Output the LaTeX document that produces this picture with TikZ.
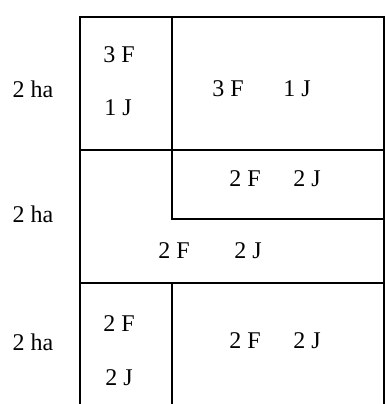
\documentclass[tikz,border=0pt]{standalone}
\usepackage{fontspec}
\setmainfont{Liberation Serif}
\usetikzlibrary{positioning}

\begin{document}
\begin{tikzpicture}[x=1pt,y=-1pt,
  wall/.style={line width=1.6pt,line cap=rect},
  lbl/.style={inner sep=0pt,font=\fontsize{24}{28}\selectfont}
]
  \useasboundingbox (0,0) rectangle (385,404);
  % field outline and plots
  \draw[wall] (384,17) -- (80,17) -- (80,404);
  \draw[wall] (384,17) -- (384,404);
  \draw[wall] (172,17) -- (172,219) -- (384,219);
  \draw[wall] (80,150) -- (384,150);
  \draw[wall] (80,283) -- (384,283);
  \draw[wall] (172,283) -- (172,404);
  % areas
  \node[lbl] (ha1) at (33,89) {2 ha};
  \node[lbl] (ha2) at (33,214) {2 ha};
  \node[lbl] (ha3) at (33,342) {2 ha};
  % top plot
  \node[lbl] (a1) at (119,55) {3 F};
  \node[lbl] (a2) at (118,108) {1 J};
  \node[lbl] (b1) at (228,89) {3 F};
  \node[lbl] (b2) at (297,89) {1 J};
  % middle plot
  \node[lbl] (c1) at (245,179) {2 F};
  \node[lbl] (c2) at (307,179) {2 J};
  \node[lbl] (d1) at (174,251) {2 F};
  \node[lbl] (d2) at (248,251) {2 J};
  % bottom plot
  \node[lbl] (e1) at (119,324) {2 F};
  \node[lbl] (e2) at (119,378) {2 J};
  \node[lbl] (f1) at (245,341) {2 F};
  \node[lbl] (f2) at (307,341) {2 J};
\end{tikzpicture}
\end{document}
